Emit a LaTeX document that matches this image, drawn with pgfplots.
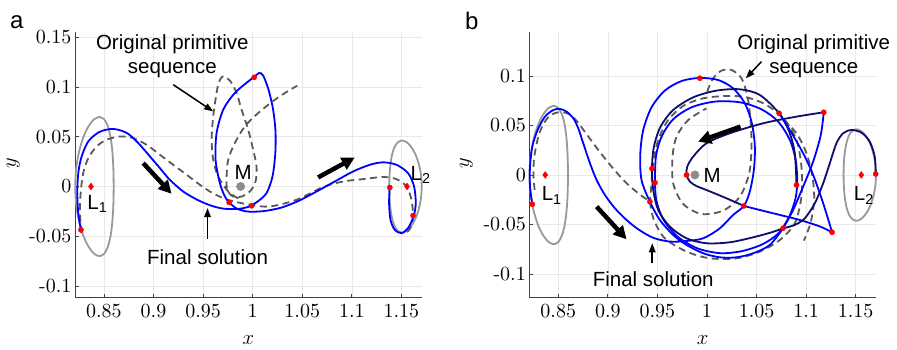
\documentclass[border=0pt]{standalone}
\usepackage[no-math]{fontspec}
\setmainfont{Liberation Sans}
\newfontfamily\lmr{lmroman10-regular.otf}
\usepackage{pgfplots}
\pgfplotsset{compat=1.18}
\usetikzlibrary{arrows.meta}
\definecolor{orbgray}{gray}{0.6}
\definecolor{dashgray}{gray}{0.35}
\definecolor{mgray}{gray}{0.55}
\definecolor{navy}{rgb}{0.05,0.05,0.42}
\definecolor{axgray}{gray}{0.25}
\newcommand\annfont{\fontsize{20.5}{24}\selectfont}
\pgfplotsset{
  panel/.style={
    scale only axis, width=346.7pt, height=266pt,
    xmin=0.8208, xmax=1.1705,
    axis lines*=left, axis line style={-, axgray, line width=0.9pt},
    tick align=inside, major tick length=4pt, tick style={axgray, line width=0.8pt},
    grid=major, major grid style={gray!17, line width=0.6pt},
    xtick={0.85,0.9,0.95,1,1.05,1.1,1.15},
    xticklabels={0.85,0.9,0.95,1,1.05,1.1,1.15},
    scaled ticks=false,
    tick label style={font=\lmr\fontsize{20}{22}\selectfont},
    xticklabel style={yshift=-3pt},
    label style={font=\fontsize{20}{22}\selectfont},
    clip=false,
  },
  orb/.style={orbgray, line width=1.8pt, smooth},
  dsh/.style={dashgray, line width=1.8pt, smooth, dash pattern=on 7pt off 4.5pt},
  sol/.style={blue, line width=1.8pt, smooth},
  nav/.style={navy, line width=1.8pt, smooth},
}
\newcommand\LoneOrbit{\addplot[orb] coordinates {(0.8455,0.0700) (0.8502,0.0676) (0.8539,0.0606) (0.8567,0.0495) (0.8585,0.0350) (0.8595,0.0181) (0.8598,0) (0.8595,-0.0181) (0.8585,-0.0350) (0.8567,-0.0495) (0.8539,-0.0606) (0.8502,-0.0676) (0.8455,-0.0700) (0.8401,-0.0676) (0.8345,-0.0606) (0.8292,-0.0495) (0.8249,-0.0350) (0.8220,-0.0181) (0.8210,0) (0.8220,0.0181) (0.8249,0.0350) (0.8292,0.0495) (0.8345,0.0606) (0.8401,0.0676) (0.8455,0.0700)};}
\newcommand\LtwoOrbit{\addplot[orb] coordinates {(1.1507,0.0463) (1.1551,0.0447) (1.1597,0.0401) (1.1640,0.0327) (1.1674,0.0232) (1.1697,0.0120) (1.1705,0) (1.1697,-0.0120) (1.1674,-0.0232) (1.1640,-0.0327) (1.1597,-0.0401) (1.1551,-0.0447) (1.1507,-0.0463) (1.1467,-0.0447) (1.1433,-0.0401) (1.1408,-0.0327) (1.1391,-0.0232) (1.1381,-0.0120) (1.1378,0) (1.1381,0.0120) (1.1391,0.0232) (1.1408,0.0327) (1.1433,0.0401) (1.1467,0.0447) (1.1507,0.0463)};}
\begin{document}
\begin{tikzpicture}
\useasboundingbox (0,0) rectangle (897pt,349pt);
% ---------------- panel a ----------------
\begin{axis}[panel, at={(75pt,51.3pt)}, anchor=south west,
  ymin=-0.1118, ymax=0.1556, ytick={-0.1,-0.05,0,0.05,0.1,0.15},
  yticklabels={-0.1,-0.05,0,0.05,0.1,0.15},
  xlabel={$x$}, ylabel={$y$},
  xlabel style={at={(axis description cs:0.5,-0.159)},anchor=center},
  ylabel style={at={(axis description cs:-0.178,0.505)},anchor=center}]
\LoneOrbit
\LtwoOrbit
% original primitive sequence
\addplot[dsh] coordinates {(0.8275,-0.0469) (0.8258,-0.0268) (0.8265,-0.0066) (0.8291,0.0135) (0.8342,0.0285) (0.8426,0.0402) (0.8527,0.0470) (0.8661,0.0503) (0.8795,0.0487) (0.8930,0.0419) (0.9064,0.0319) (0.9199,0.0218) (0.9334,0.0118) (0.9468,0.0017) (0.9568,-0.0050) (0.9652,-0.0094) (0.9753,-0.0135) (0.9972,-0.0184) (1.0173,-0.0201) (1.0442,-0.0134) (1.0711,-0.0005) (1.0912,0.0050) (1.1114,0.0074) (1.1316,0.0095) (1.1450,0.0074) (1.1551,0.0) (1.1602,-0.0134) (1.1618,-0.0302) (1.1590,-0.0420) (1.1540,-0.0470)};
\addplot[dsh] coordinates {(0.9854,-0.0120) (0.9753,-0.0050) (0.9652,0.0101) (0.9602,0.0269) (0.9586,0.0470) (0.9602,0.0704) (0.9636,0.0940) (0.9660,0.1050) (0.9700,0.1107) (0.9770,0.1065) (0.9838,0.0940) (0.9888,0.0772) (0.9955,0.0570) (1.0005,0.0369) (1.0039,0.0201) (1.0029,0.0050) (0.9972,-0.0050) (0.9888,-0.0101) (0.9803,-0.0101) (0.9743,-0.0033) (0.9737,0.0101) (0.9753,0.0269) (0.9820,0.0437) (0.9921,0.0604) (1.0055,0.0738) (1.0224,0.0872) (1.0358,0.0960) (1.0450,0.1013)};
% final solution
\addplot[sol] coordinates {(0.8268,-0.0436) (0.8241,-0.0268) (0.8231,-0.0066) (0.8241,0.0135) (0.8275,0.0302) (0.8342,0.0453) (0.8443,0.0543) (0.8530,0.0572) (0.8600,0.0578) (0.8680,0.0560) (0.8750,0.0525) (0.8846,0.0437) (0.8964,0.0302) (0.9064,0.0185) (0.9165,0.0067) (0.9299,-0.0050) (0.9434,-0.0130) (0.9568,-0.0188) (0.9700,-0.0222) (0.9850,-0.0226) (0.9960,-0.0203) (1.0045,-0.0155) (1.0140,-0.0066) (1.0200,0.0101) (1.0228,0.0330) (1.0230,0.0560) (1.0205,0.0780) (1.0160,0.0973) (1.0106,0.1115) (1.0065,0.1141) (1.0015,0.1101) (0.9955,0.1056) (0.9820,0.0940) (0.9703,0.0772) (0.9636,0.0537) (0.9626,0.0269) (0.9669,0.0034) (0.9720,-0.0101) (0.9763,-0.0161) (0.9840,-0.0222) (0.9950,-0.0252) (1.0106,-0.0248) (1.0280,-0.0215) (1.0440,-0.0155) (1.0590,-0.0080) (1.0728,-0.0005) (1.0846,0.0060) (1.1013,0.0151) (1.1181,0.0218) (1.1316,0.0243) (1.1450,0.0218) (1.1567,0.0135) (1.1628,0.0) (1.1645,-0.0167) (1.1625,-0.0295) (1.1567,-0.0419) (1.1500,-0.0469) (1.1433,-0.0436) (1.1390,-0.0335) (1.1376,-0.0167) (1.1383,-0.0010)};
% markers
\addplot[only marks, mark=*, mark size=2.6pt, red] coordinates {(0.8268,-0.0436) (0.9763,-0.0161) (0.9989,-0.0194) (1.0015,0.1097) (1.1383,-0.001) (1.1618,-0.0292)};
\addplot[only marks, mark=diamond*, mark size=3.4pt, red] coordinates {(0.8369,0) (1.1557,0)};
\addplot[only marks, mark=*, mark size=4.2pt, mgray] coordinates {(0.98785,0)};
% arrows
\draw[line width=4.5pt, -{Triangle[length=13pt,width=13pt]}] (axis cs:0.8896,0.0235) -- (axis cs:0.9182,-0.0073);
\draw[line width=4.5pt, -{Triangle[length=13pt,width=13pt]}] (axis cs:1.0660,0.0091) -- (axis cs:1.1030,0.0292);
\draw[line width=1.5pt, -{Triangle[length=9pt,width=6.5pt]}] (axis cs:0.9199,0.1023) -- (axis cs:0.9602,0.0755);
\draw[line width=1.5pt, -{Triangle[length=9pt,width=6.5pt]}] (axis cs:0.9545,-0.0529) -- (axis cs:0.9545,-0.0217);
% texts
\node[font=\annfont, anchor=base, inner sep=0pt] at (axis cs:0.9190,0.1375) {Original primitive};
\node[font=\annfont, anchor=base, inner sep=0pt] at (axis cs:0.9190,0.1134) {sequence};
\node[font=\annfont, anchor=base, inner sep=0pt] at (axis cs:0.9545,-0.0788) {Final solution};
\node[font=\annfont, anchor=base, inner sep=0pt] at (axis cs:0.9904,0.0067) {M};
\node[font=\annfont, anchor=base west, inner sep=0pt] at (axis cs:0.8332,-0.0227) {L\textsubscript{1}};
\node[font=\annfont, anchor=base west, inner sep=0pt] at (axis cs:1.1591,0.0057) {L\textsubscript{2}};
\end{axis}
% ---------------- panel b ----------------
\begin{axis}[panel, at={(529.3pt,51.3pt)}, anchor=south west,
  ymin=-0.124, ymax=0.1447, ytick={-0.1,-0.05,0,0.05,0.1},
  yticklabels={-0.1,-0.05,0,0.05,0.1},
  xlabel={$x$}, ylabel={$y$},
  xlabel style={at={(axis description cs:0.5,-0.159)},anchor=center},
  ylabel style={at={(axis description cs:-0.181,0.505)},anchor=center}]
\LoneOrbit
\LtwoOrbit
% original primitive sequence
\addplot[dsh] coordinates {(0.8262,-0.0150) (0.8250,0.0000) (0.8258,0.0185) (0.8309,0.0421) (0.8389,0.0572) (0.8484,0.0630) (0.8591,0.0623) (0.8678,0.0555) (0.8779,0.0421) (0.8904,0.0252) (0.9038,0.0084) (0.9172,-0.0067) (0.9307,-0.0185) (0.9424,-0.0269)};
\addplot[dsh] coordinates {(0.9424,-0.0269) (0.9465,-0.0455) (0.9575,-0.0640) (0.9794,-0.0774) (1.0029,-0.0842) (1.0298,-0.0842) (1.0533,-0.0774) (1.0735,-0.0657) (1.0886,-0.0488) (1.0953,-0.0219) (1.0953,0.0084) (1.0903,0.0353) (1.0785,0.0555) (1.0600,0.0707) (1.0399,0.0784) (1.0197,0.0798) (0.9962,0.0774) (0.9760,0.0697) (0.9609,0.0555) (0.9508,0.0353) (0.9458,0.0118) (0.9441,-0.0084) (0.9424,-0.0269)};
\addplot[dsh] coordinates {(1.0002,0.0842) (1.0063,0.0976) (1.0147,0.1054) (1.0248,0.1060) (1.0349,0.0976) (1.0409,0.0791) (1.0439,0.0555) (1.0449,0.0286) (1.0426,0.0017) (1.0332,-0.0219) (1.0164,-0.0360) (0.9945,-0.0394) (0.9760,-0.0293) (0.9659,-0.0084) (0.9653,0.0185) (0.9693,0.0387) (0.9811,0.0555) (0.9995,0.0673)};
\addplot[dsh] coordinates {(1.0768,0.0555) (1.0903,0.0421) (1.1004,0.0219) (1.1064,-0.0017) (1.1081,-0.0253) (1.1044,-0.0488) (1.0977,-0.0663)};
% final solution
\addplot[sol] coordinates {(0.8238,-0.0293) (0.8215,-0.0118) (0.8215,0.0084) (0.8238,0.0286) (0.8292,0.0454) (0.8366,0.0589) (0.8450,0.0656) (0.8517,0.0667) (0.8584,0.0640) (0.8652,0.0572) (0.8702,0.0471) (0.8752,0.0320) (0.8820,0.0118) (0.8887,-0.0051) (0.8971,-0.0202) (0.9072,-0.0337) (0.9189,-0.0455) (0.9307,-0.0549) (0.9458,-0.0635) (0.9626,-0.0673) (0.9794,-0.0667) (0.9962,-0.0640) (1.0130,-0.0539) (1.0264,-0.0404) (1.0372,-0.0313) (1.0432,-0.0168) (1.0473,0.0050) (1.0483,0.0286) (1.0453,0.0522) (1.0382,0.0724) (1.0264,0.0875) (1.0113,0.0959) (0.9928,0.0980) (0.9744,0.0949) (0.9575,0.0852) (0.9441,0.0683) (0.9357,0.0454) (0.9327,0.0202) (0.9340,-0.0051) (0.9424,-0.0270) (0.9525,-0.0455) (0.9659,-0.0606) (0.9794,-0.0707) (0.9962,-0.0791) (1.0130,-0.0832) (1.0298,-0.0832) (1.0466,-0.0791) (1.0634,-0.0707) (1.0768,-0.0539)};
\addplot[sol] coordinates {(0.9475,-0.0078) (0.9490,-0.0260) (0.9560,-0.0450) (0.9700,-0.0620) (0.9900,-0.0740) (1.0130,-0.0790) (1.0350,-0.0770) (1.0560,-0.0700) (1.0720,-0.0590) (1.0830,-0.0420) (1.0895,-0.0230) (1.0910,-0.0050) (1.0895,0.0150) (1.0836,0.0353) (1.0718,0.0539) (1.0550,0.0663) (1.0332,0.0734) (1.0080,0.0741) (0.9844,0.0683) (0.9659,0.0562) (0.9542,0.0387) (0.9485,0.0185) (0.9475,-0.0078)};
\addplot[nav] coordinates {(1.0903,-0.0101) (1.0886,0.0219) (1.0829,0.0438) (1.0728,0.0623) (1.0533,0.0808) (1.0332,0.0865) (1.0096,0.0852) (0.9861,0.0784) (0.9659,0.0656) (0.9532,0.0488) (0.9465,0.0286) (0.9445,0.0064) (0.9458,-0.0152) (0.9508,-0.0354) (0.9626,-0.0522) (0.9794,-0.0640) (0.9995,-0.0690) (1.0231,-0.0680) (1.0466,-0.0630) (1.0650,-0.0580) (1.0768,-0.0539)};
\addplot[nav] coordinates {(1.1178,0.0633) (1.0903,0.0589) (1.0567,0.0522) (1.0231,0.0421) (0.9995,0.0320) (0.9861,0.0185) (0.9801,0.0084) (0.9794,0) (0.9830,-0.0070) (0.9900,-0.0115) (0.9995,-0.0152) (1.0197,-0.0236) (1.0372,-0.0313)};
\addplot[sol] coordinates {(1.0372,-0.0313) (1.0533,-0.0354) (1.0735,-0.0404) (1.0937,-0.0455) (1.1138,-0.0520) (1.1262,-0.0579)};
\addplot[sol] coordinates {(1.0728,0.0623) (1.0836,0.0454) (1.0970,0.0219) (1.1071,0.0) (1.1172,-0.0286) (1.1262,-0.0579)};
\addplot[sol] coordinates {(1.1178,0.0633) (1.1148,0.0404) (1.1071,0.0135) (1.0970,-0.0118) (1.0869,-0.0354) (1.0768,-0.0539)};
\addplot[nav] coordinates {(1.0768,-0.0539) (1.0886,-0.0505) (1.0987,-0.0438) (1.1088,-0.0286) (1.1172,-0.0084) (1.1239,0.0118) (1.1306,0.0320) (1.1373,0.0421) (1.1457,0.0454) (1.1558,0.0427) (1.1642,0.0337) (1.1692,0.0185) (1.1702,0.0010)};
% markers
\addplot[only marks, mark=*, mark size=2.6pt, red] coordinates {(0.8238,-0.0296) (0.9928,0.0977) (1.0728,0.0623) (1.1178,0.0633) (0.9445,0.0064) (0.9475,-0.0078) (0.9424,-0.0270) (0.9794,0) (1.0372,-0.0313) (1.0903,-0.0101) (1.0768,-0.0538) (1.1262,-0.0579) (1.1702,0.001)};
\addplot[only marks, mark=diamond*, mark size=3.4pt, red] coordinates {(0.8369,0) (1.1557,0)};
\addplot[only marks, mark=*, mark size=4.2pt, mgray] coordinates {(0.98785,0)};
% arrows
\draw[line width=4.5pt, -{Triangle[length=13pt,width=13pt]}] (axis cs:0.8887,-0.0320) -- (axis cs:0.9189,-0.0650);
\draw[line width=4.5pt, -{Triangle[length=13pt,width=13pt]}] (axis cs:1.0338,0.0488) -- (axis cs:0.9911,0.0337);
\draw[line width=1.5pt, -{Triangle[length=9pt,width=6.5pt]}] (axis cs:1.0550,0.1145) -- (axis cs:1.0392,0.0976);
\draw[line width=1.5pt, -{Triangle[length=9pt,width=6.5pt]}] (axis cs:0.9448,-0.0893) -- (axis cs:0.9448,-0.0690);
% texts
\node[font=\annfont, anchor=base, inner sep=0pt] at (axis cs:1.1077,0.1269) {Original primitive};
\node[font=\annfont, anchor=base, inner sep=0pt] at (axis cs:1.1077,0.1027) {sequence};
\node[font=\annfont, anchor=base, inner sep=0pt] at (axis cs:0.9458,-0.1128) {Final solution};
\node[font=\annfont, anchor=base, inner sep=0pt] at (axis cs:1.0053,-0.0078) {M};
\node[font=\annfont, anchor=base west, inner sep=0pt] at (axis cs:0.8332,-0.0263) {L\textsubscript{1}};
\node[font=\annfont, anchor=base west, inner sep=0pt] at (axis cs:1.1480,-0.0263) {L\textsubscript{2}};
\end{axis}
\node[font=\fontsize{24}{26}\selectfont, anchor=base west, inner sep=0pt] at (10pt,320.7pt) {a};
\node[font=\fontsize{24}{26}\selectfont, anchor=base west, inner sep=0pt] at (465pt,319.7pt) {b};
\end{tikzpicture}
\end{document}
